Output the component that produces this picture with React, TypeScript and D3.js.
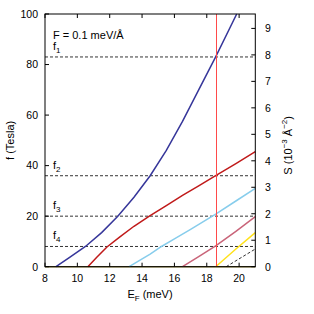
import React from "react";
import * as d3 from "d3";

const W = 314, H = 314;
const M = { left: 45, right: 58.7, top: 14, bottom: 47.3 };

const xDomain = [8, 21];
const fDomain = [0, 100];
const xTicks = [8, 10, 12, 14, 16, 18, 20];
const fTicks = [0, 20, 40, 60, 80, 100];
const sTicks = [0, 1, 2, 3, 4, 5, 6, 7, 8, 9];
// 1e-3 A^-2 corresponds to 10.477 T (Onsager)
const teslaPerS = 10.477;

const blueE = [8.68, 9.5, 10.5, 11.5, 12.5, 13.5, 14.5, 15.5, 16.5, 17.5, 18.55, 19.85];
const blueF = [0, 3.6, 8, 13.5, 20, 27.5, 36, 46, 57.5, 70, 83, 100];
const redE = [10.65, 11.2, 11.83, 12.65, 13.5, 14.45, 15.5, 16.5, 17.5, 18.55, 19.8, 21];
const redF = [0, 3.7, 7.8, 11.9, 16, 20, 24.2, 28.2, 32, 36, 40.8, 45.5];
const skyE = [13.2, 14.5, 15.2, 16, 17, 18.55, 19.8, 21];
const skyF = [0, 5, 8, 11, 14.8, 20.8, 26, 31];
const pinkE = [16.5, 17.5, 18.55, 19.8, 21];
const pinkF = [0, 4, 8.2, 14, 19.8];
const yellowE = [18.55, 19.8, 21];
const yellowF = [0, 7, 13.5];
const blackE = [19.2, 21];
const blackF = [0, 7];
const zeroE = [8, 21];
const zeroF = [0, 0];

const levelValues = [83, 36, 20, 8];
const levelNames = ["1", "2", "3", "4"];
const fermiE = 18.55;

export default function App() {
  const x = d3.scaleLinear().domain(xDomain).range([M.left, W - M.right]);
  const y = d3.scaleLinear().domain(fDomain).range([H - M.bottom, M.top]);
  const yS = d3.scaleLinear().domain([0, 100 / teslaPerS]).range([H - M.bottom, M.top]);
  const line = d3.line<[number, number]>().x(d => x(d[0])).y(d => y(d[1]));
  const mk = (E: number[], F: number[]) => line(E.map((e, i) => [e, F[i]]) as [number, number][]) || "";

  const series = [
    { E: zeroE, F: zeroF, color: "#857a34", dash: "", w: 1.5 },
    { E: blueE, F: blueF, color: "#36369a", dash: "", w: 1.5 },
    { E: redE, F: redF, color: "#c01a1a", dash: "", w: 1.5 },
    { E: skyE, F: skyF, color: "#87cdec", dash: "", w: 1.5 },
    { E: pinkE, F: pinkF, color: "#c96479", dash: "", w: 1.5 },
    { E: yellowE, F: yellowF, color: "#ffe21a", dash: "", w: 1.5 },
    { E: blackE, F: blackF, color: "#000", dash: "3,2", w: 0.8 },
  ];

  const x0 = M.left, x1 = W - M.right, y0 = H - M.bottom, y1 = M.top;
  const font = "Liberation Sans, Arial, sans-serif";
  const tl = 4;
  const fx = Math.round(x(fermiE)) + 0.5;

  return (
    <svg width={W} height={H} style={{ position: "absolute", left: 0, top: 0, background: "#fff" }} fontFamily={font}>
      {/* horizontal levels */}
      {levelValues.map((v, i) => (
        <g key={"lv" + i}>
          <line x1={x0} x2={x1} y1={y(v)} y2={y(v)} stroke="#000" strokeWidth={0.8} strokeDasharray="3,2" />
          <text x={53} y={y(v) - 7} fontSize={11}>
            f<tspan fontSize={8} dy={3}>{levelNames[i]}</tspan>
          </text>
        </g>
      ))}
      {series.map((s, i) => (
        <path key={i} d={mk(s.E, s.F)} fill="none" stroke={s.color} strokeWidth={s.w} strokeDasharray={s.dash || undefined} />
      ))}
      {/* Fermi line */}
      <line x1={fx} x2={fx} y1={y1} y2={y0} stroke="#ff4a4a" strokeWidth={1} />
      {/* frame */}
      <rect x={x0} y={y1} width={x1 - x0} height={y0 - y1} fill="none" stroke="#000" strokeWidth={1} />
      {/* x ticks */}
      {xTicks.map(t => (
        <g key={"xt" + t}>
          <line x1={x(t)} x2={x(t)} y1={y0} y2={y0 - tl} stroke="#000" />
          <line x1={x(t)} x2={x(t)} y1={y1} y2={y1 + tl} stroke="#000" />
          <text x={x(t)} y={y0 + 15.5} fontSize={10.5} textAnchor="middle">{t}</text>
        </g>
      ))}
      {fTicks.map(t => (
        <g key={"yt" + t}>
          <line x1={x0} x2={x0 + tl} y1={y(t)} y2={y(t)} stroke="#000" />
          <text x={38} y={y(t) + 3.8} fontSize={10.5} textAnchor="end">{t}</text>
        </g>
      ))}
      {sTicks.map(t => (
        <g key={"st" + t}>
          <line x1={x1} x2={x1 - tl} y1={yS(t)} y2={yS(t)} stroke="#000" />
          <text x={265} y={yS(t) + 3.8} fontSize={10.5} textAnchor="start">{t}</text>
        </g>
      ))}
      {/* labels */}
      <text x={53} y={39} fontSize={11}>F = 0.1 meV/Å</text>
      <text x={150} y={298} fontSize={11} textAnchor="middle">
        E<tspan fontSize={8} dy={3}>F</tspan><tspan dy={-3}> (meV)</tspan>
      </text>
      <text transform={`translate(14,${(y0 + y1) / 2}) rotate(-90)`} fontSize={11} textAnchor="middle">f (Tesla)</text>
      <text transform={`translate(292,${(y0 + y1) / 2 + 5}) rotate(-90)`} fontSize={11} textAnchor="middle">
        S (10<tspan fontSize={8} dy={-5}>−3</tspan><tspan dy={5}> Å</tspan><tspan fontSize={8} dy={-5}>−2</tspan><tspan dy={5}>)</tspan>
      </text>
    </svg>
  );
}
